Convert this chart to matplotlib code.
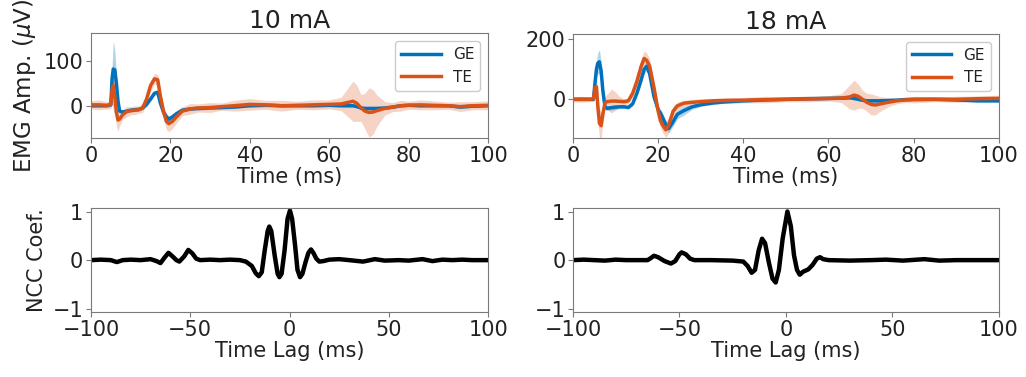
import numpy as np
import matplotlib
matplotlib.use('Agg')
import matplotlib.pyplot as plt

# ---- EMG traces, 10 mA ----
t10 = [0, 2, 4, 5, 5.3, 5.6, 6, 6.4, 6.8, 7.2, 8, 9, 10, 11, 12, 13, 14, 15, 16, 16.8,
       17.5, 18.3, 19, 19.6, 20.5, 21.5, 23, 25, 27, 30, 33, 36, 40, 44, 48, 52, 56, 60,
       63, 65, 66, 67, 68, 69, 70, 71, 72, 74, 76, 78, 80, 83, 86, 90, 93, 96, 100]
ge10 = [0, 0, 0, 2, 60, 82, 80, 50, 10, -12, -14, -12, -10, -9, -8, -5, 3, 15, 28, 30,
        5, -15, -25, -30, -25, -18, -10, -7, -6, -5, -4, -3, 0, 1, 0, 0, 0, 1,
        0, 0, 0, -2, -5, -6, -6, -6, -6, -5, -3, 0, 1, 0, 0, 0, -3, -1, 0]
ge10_sd = [3, 3, 3, 4, 25, 62, 45, 20, 10, 5, 4, 4, 4, 4, 4, 4, 5, 5, 5, 5,
           5, 5, 6, 6, 5, 5, 4, 4, 4, 3, 3, 3, 3, 3, 3, 3, 3, 3,
           3, 3, 3, 3, 4, 4, 4, 4, 4, 3, 3, 3, 3, 3, 3, 3, 3, 3, 3]
te10 = [2, 2, 1, 3, 35, 45, 20, -15, -32, -30, -20, -13, -11, -10, -9, -5, 15, 45, 60, 58,
        20, -15, -35, -40, -35, -25, -12, -7, -5, -4, -2, 0, 3, 2, 0, 1, 2, 3,
        4, 8, 10, 5, -5, -12, -15, -14, -11, -6, -3, 0, 1, 2, 1, 0, -2, 0, 1]
te10_sd = [9, 11, 8, 10, 30, 55, 40, 30, 25, 15, 10, 12, 9, 10, 8, 10, 12, 12, 12, 12,
           14, 16, 18, 18, 16, 14, 10, 12, 9, 11, 8, 12, 13, 10, 12, 9, 11, 10,
           15, 35, 45, 40, 30, 40, 55, 50, 35, 15, 10, 12, 9, 11, 10, 8, 11, 9, 10]

# ---- EMG traces, 18 mA ----
t18 = [0, 2, 4, 4.8, 5.2, 5.5, 5.8, 6.2, 6.6, 7, 7.5, 8, 9, 10, 11, 12, 13, 14, 15, 16,
       16.7, 17.3, 18, 19, 20, 20.5, 21, 21.8, 22.5, 23.5, 24.5, 26, 28, 30, 33, 36, 40,
       45, 50, 55, 60, 63, 65, 66, 67, 68, 69, 70, 71, 72, 74, 76, 78, 80, 85, 90, 95, 100]
ge18 = [0, 0, 0, 0, 60, 100, 120, 125, 95, 30, -25, -30, -28, -26, -25, -25, -27, -15, 20, 65,
        100, 110, 85, 10, -35, -45, -60, -85, -97, -75, -50, -38, -25, -18, -12, -8, -5,
        -2, 0, 2, 3, 4, 5, 3, 0, -3, -5, -5, -5, -5, -4, -3, -1, 0, 0, -2, -5, -5]
ge18_sd = [5, 5, 5, 5, 15, 25, 35, 40, 30, 20, 10, 8, 8, 8, 6, 6, 6, 8, 10, 15,
           15, 15, 15, 10, 10, 12, 15, 15, 15, 15, 15, 15, 8, 6, 5, 5, 5,
           5, 5, 5, 5, 5, 5, 5, 5, 5, 5, 5, 5, 5, 5, 5, 5, 5, 5, 5, 5, 5]
te18 = [0, 0, 0, 2, 40, 42, -20, -80, -88, -50, -12, -8, -6, -6, -7, -8, -5, 20, 60, 110,
        136, 130, 110, 40, -40, -70, -85, -102, -85, -40, -22, -13, -10, -8, -5, -4, -3,
        -1, 0, 1, 3, 4, 8, 14, 10, 0, -10, -17, -19, -16, -10, -5, -2, -1, 0, 0, 2, 3]
te18_sd = [8, 10, 7, 9, 30, 40, 40, 50, 45, 30, 20, 25, 40, 30, 15, 10, 9, 12, 18, 25,
           25, 25, 25, 20, 25, 25, 25, 25, 25, 18, 12, 10, 9, 11, 8, 10, 9,
           11, 8, 10, 9, 15, 40, 50, 40, 30, 30, 35, 33, 25, 15, 10, 9, 11, 8, 10, 9, 11]

# ---- normalized cross-correlation ----
lag10 = [-100, -95, -90, -87, -84, -80, -75, -70, -67, -65, -63, -61, -59, -57, -55.5, -53,
         -51, -49, -47, -45, -40, -35, -30, -25, -22, -19, -17, -15.5, -14, -12.5, -11,
         -10.2, -9.2, -7.5, -6, -5.1, -4, -2.5, -1, 0.2, 1.3, 2.8, 4, 5.3, 6.5, 8, 9.5,
         10.8, 12, 13.5, 15, 17, 20, 25, 30, 37, 43, 48, 55, 60, 67, 72, 77, 82, 87, 92, 100]
ncc10 = [0, 0.01, 0, -0.04, 0, 0.01, 0, 0.02, -0.02, -0.06, 0.05, 0.15, 0.08, 0, -0.03, 0.08,
         0.21, 0.14, 0.03, 0, 0.01, 0, 0.01, 0, -0.03, -0.12, -0.27, -0.33, -0.25, 0.2, 0.6,
         0.69, 0.6, 0.1, -0.28, -0.35, -0.28, 0.2, 0.85, 1.02, 0.85, 0.3, -0.2, -0.35, -0.28, -0.05, 0.15,
         0.22, 0.15, 0.03, -0.03, -0.02, 0.01, 0.02, 0, -0.03, 0.02, -0.01, 0, -0.01, 0.02, -0.02, 0.01, 0, 0.01, 0, 0]

lag18 = [-100, -95, -90, -85, -80, -75, -70, -65, -63.5, -62, -60, -57, -54, -52, -50, -49,
         -47, -45, -43, -35, -25, -20, -18, -16.1, -14.5, -12.8, -11.2, -9.8, -8, -6.3, -4.8,
         -3.3, -1.5, 0.7, 2.3, 3.8, 5.2, 6.5, 8, 10.5, 12.5, 14.5, 16, 17.5, 20, 30, 40, 47,
         55, 65, 72, 80, 90, 100]
ncc18 = [0, 0.01, 0, -0.01, 0.01, 0, 0, 0, 0.04, 0.09, 0.06, -0.02, -0.07, -0.02, 0.12, 0.16,
         0.12, 0.03, 0, 0, -0.01, -0.03, -0.12, -0.26, -0.2, 0.2, 0.44, 0.35, -0.05, -0.38, -0.46,
         -0.2, 0.45, 1.0, 0.7, 0.1, -0.2, -0.3, -0.24, -0.19, -0.1, 0.03, 0.06, 0.02, 0, -0.01, 0, 0.01,
         -0.01, 0.02, -0.01, 0, 0, 0]

blue = '#0072BD'
orange = '#D95319'
grey = '#7a7a7a'
txt = '#222222'

plt.rcParams['font.size'] = 15
plt.rcParams['text.color'] = txt
plt.rcParams['axes.labelcolor'] = txt
plt.rcParams['xtick.color'] = grey
plt.rcParams['ytick.color'] = grey
plt.rcParams['xtick.labelcolor'] = txt
plt.rcParams['ytick.labelcolor'] = txt

fig = plt.figure(figsize=(10.26, 3.77), dpi=100)
ax1 = fig.add_axes([0.0887, 0.634, 0.387, 0.278])
ax2 = fig.add_axes([0.5585, 0.634, 0.415, 0.276])
ax3 = fig.add_axes([0.0887, 0.172, 0.387, 0.276])
ax4 = fig.add_axes([0.5585, 0.172, 0.415, 0.276])


def emg_panel(ax, t, ge, ge_sd, te, te_sd, title, ylim, yticks):
    t = np.array(t)
    ge, ge_sd = np.array(ge), np.array(ge_sd)
    te, te_sd = np.array(te), np.array(te_sd)
    ax.fill_between(t, ge - ge_sd, ge + ge_sd, color=blue, alpha=0.3, lw=0)
    ax.fill_between(t, te - te_sd, te + te_sd, color=orange, alpha=0.25, lw=0)
    ax.plot(t, ge, color=blue, lw=2.5, label='GE')
    ax.plot(t, te, color=orange, lw=2.5, label='TE')
    ax.set_xlim(0, 100)
    ax.set_ylim(*ylim)
    ax.set_yticks(yticks)
    ax.set_xticks([0, 20, 40, 60, 80, 100])
    ax.set_xlabel('Time (ms)', labelpad=1)
    ax.set_title(title, fontsize=18, pad=3)
    ax.legend(loc='upper right', fontsize=11, handlelength=2.6, framealpha=1)


def ncc_panel(ax, lag, ncc):
    ax.plot(lag, ncc, color='black', lw=3.2)
    ax.set_xlim(-100, 100)
    ax.set_ylim(-1.07, 1.07)
    ax.set_yticks([-1, 0, 1])
    ax.set_xticks([-100, -50, 0, 50, 100])
    ax.set_xlabel('Time Lag (ms)', labelpad=1)


emg_panel(ax1, t10, ge10, ge10_sd, te10, te10_sd, '10 mA', (-72, 162), [0, 100])
emg_panel(ax2, t18, ge18, ge18_sd, te18, te18_sd, '18 mA', (-129, 218), [0, 200])
ncc_panel(ax3, lag10, ncc10)
ncc_panel(ax4, lag18, ncc18)

ax1.set_ylabel(r'EMG Amp. ($\mu$V)', fontsize=16.5)
ax3.set_ylabel('NCC Coef.')

for ax in (ax1, ax2, ax3, ax4):
    for s in ax.spines.values():
        s.set_color(grey)
    ax.tick_params(pad=2)

fig.savefig('out.png', dpi=100)
